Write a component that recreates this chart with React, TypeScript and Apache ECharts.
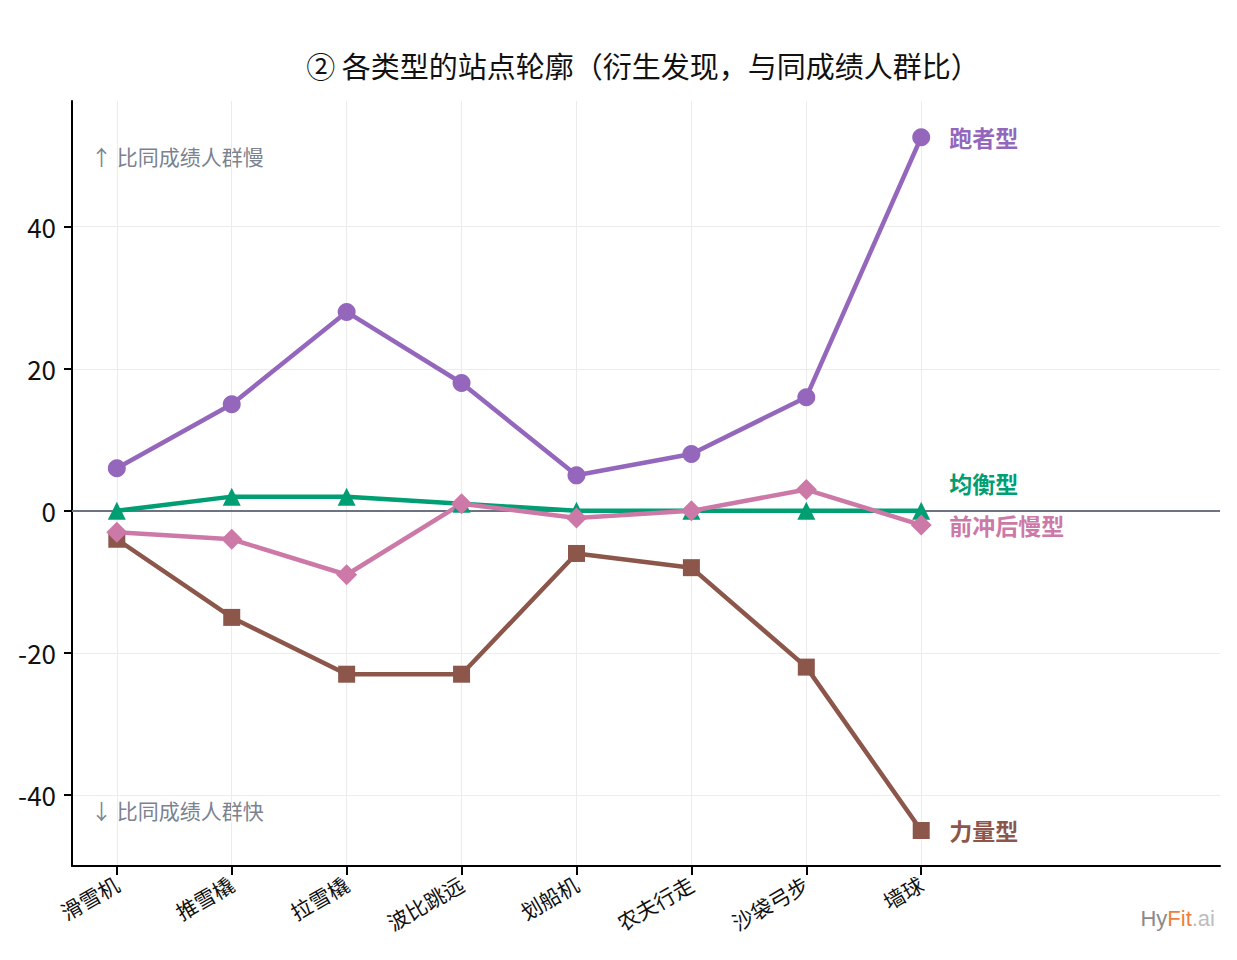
import { useEffect, useRef } from 'react';
import * as echarts from 'echarts';

const FONT = '"Noto Sans CJK SC", "Noto Sans", sans-serif';

const stations = ['滑雪机', '推雪橇', '拉雪橇', '波比跳远', '划船机', '农夫行走', '沙袋弓步', '墙球'];
const yTicks = [-40, -20, 0, 20, 40];

const runner = [6, 15, 28, 18, 5, 8, 16, 52.6];
const balanced = [0, 2, 2, 1, 0, 0, 0, 0];
const strength = [-4, -15, -23, -23, -6, -8, -22, -45];
const fastStart = [-3, -4, -9, 1, -1, 0, 3, -2];

const PURPLE = '#9467bd';
const GREEN = '#009e73';
const BROWN = '#8c564b';
const PINK = '#cc79a7';

const toPoints = (vals: number[]) => vals.map((v, i) => [i, v]);

function makeSeries(
  name: string,
  vals: number[],
  color: string,
  symbol: string,
  symbolSize: number,
  labelOffset: [number, number] = [0, 0],
) {
  return {
    name,
    type: 'line',
    data: toPoints(vals),
    symbol,
    symbolSize,
    lineStyle: { color, width: 4.5 },
    itemStyle: { color },
    endLabel: {
      show: true,
      formatter: name,
      color,
      fontFamily: FONT,
      fontSize: 23,
      fontWeight: 'bold',
      distance: 28,
      offset: labelOffset,
    },
  };
}

export default function App() {
  const ref = useRef<HTMLDivElement | null>(null);

  useEffect(() => {
    if (!ref.current) return;
    const chart = echarts.init(ref.current, undefined, { renderer: 'svg' });

    chart.setOption({
      animation: false,
      backgroundColor: '#fff',
      textStyle: { fontFamily: FONT },
      title: {
        text: '② 各类型的站点轮廓（衍生发现，与同成绩人群比）',
        left: 638,
        textAlign: 'center',
        top: 45,
        textStyle: { fontFamily: FONT, fontSize: 29, fontWeight: 'normal', color: '#111' },
      },
      grid: { left: 72, right: 17, top: 101, bottom: 94, containLabel: false, outerBoundsMode: 'none' },
      xAxis: {
        type: 'value',
        min: -0.39,
        max: 9.6,
        axisLine: { show: true, onZero: false, lineStyle: { color: '#000', width: 2 } },
        axisTick: {
          show: true,
          customValues: stations.map((_, i) => i),
          length: 9,
          lineStyle: { color: '#000', width: 2 },
        },
        axisLabel: {
          customValues: stations.map((_, i) => i),
          formatter: (v: number) => stations[v] ?? '',
          rotate: 30,
          fontSize: 21,
          color: '#111',
          fontFamily: FONT,
          margin: 16,
        },
        splitLine: { show: true, lineStyle: { color: '#ececec', width: 1 } },
      },
      yAxis: {
        type: 'value',
        min: -50,
        max: 57.7,
        name: '相对差异（%）',
        nameLocation: 'middle',
        nameGap: 81,
        nameTextStyle: { fontSize: 19, color: '#111', fontFamily: FONT },
        axisLine: { show: true, onZero: false, lineStyle: { color: '#000', width: 2 } },
        axisTick: {
          show: true,
          customValues: yTicks,
          length: 8,
          lineStyle: { color: '#000', width: 2 },
        },
        axisLabel: {
          customValues: yTicks,
          fontSize: 26,
          color: '#111',
          fontFamily: FONT,
          margin: 16,
        },
        splitLine: { show: true, lineStyle: { color: '#ececec', width: 1 } },
      },
      graphic: [
        {
          type: 'text',
          left: 91,
          top: 145,
          style: { text: '↑ 比同成绩人群慢', fill: '#7b8290', fontSize: 21, fontFamily: FONT },
        },
        {
          type: 'text',
          left: 91,
          top: 799,
          style: { text: '↓ 比同成绩人群快', fill: '#7b8290', fontSize: 21, fontFamily: FONT },
        },
        {
          type: 'text',
          right: 22,
          top: 907,
          style: {
            text: '{a|Hy}{b|Fit}{c|.ai}',
            fontFamily: 'Liberation Sans, Arial, sans-serif',
            fontSize: 22,
            rich: {
              a: { fill: '#8a8a8a', fontSize: 22, fontFamily: 'Liberation Sans' },
              b: { fill: '#ef7e3e', fontSize: 22, fontFamily: 'Liberation Sans' },
              c: { fill: '#bdbdbd', fontSize: 22, fontFamily: 'Liberation Sans' },
            },
          },
        },
      ],
      series: [
        {
          ...makeSeries('跑者型', runner, PURPLE, 'circle', 18),
          markLine: {
            silent: true,
            symbol: 'none',
            label: { show: false },
            lineStyle: { color: '#6e7383', width: 2, type: 'solid' },
            data: [{ yAxis: 0 }],
            z: 1,
          },
        },
        makeSeries('均衡型', balanced, GREEN, 'triangle', 18, [0, -28]),
        makeSeries('力量型', strength, BROWN, 'rect', 17),
        makeSeries('前冲后慢型', fastStart, PINK, 'diamond', 21),
      ],
    });

    return () => {
      chart.dispose();
    };
  }, []);

  return (
    <div
      ref={ref}
      style={{ position: 'fixed', left: 0, top: 0, width: 1237, height: 960 }}
    />
  );
}
